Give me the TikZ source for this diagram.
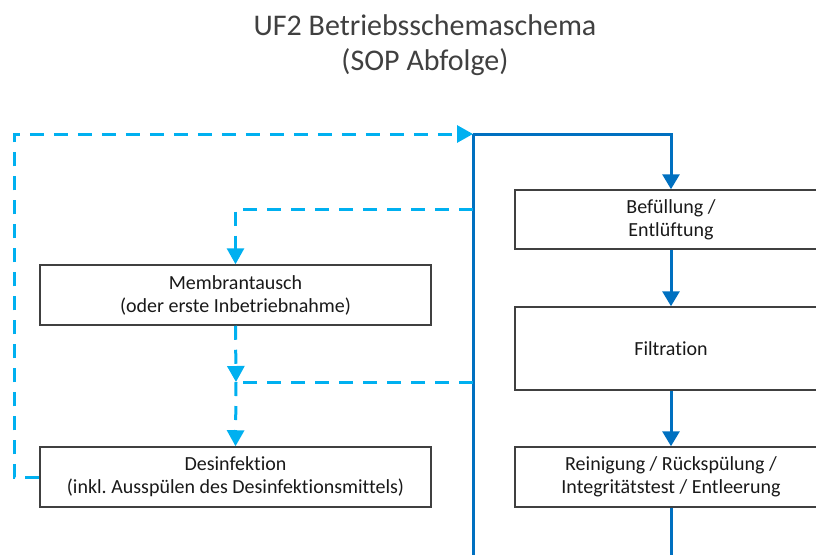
\documentclass[tikz,border=0pt]{standalone}
\usepackage{fontspec}
\setmainfont{Carlito}[Ligatures=NoCommon]
\usetikzlibrary{arrows.meta,positioning}

\definecolor{mainblue}{HTML}{0070C0}
\definecolor{lightblue}{HTML}{00B0F0}
\definecolor{boxgray}{HTML}{404040}
\definecolor{titlegray}{HTML}{404040}

\tikzset{
  box/.style={draw=boxgray,line width=1.5pt,align=center,text=black!90,
    font=\fontsize{20}{23}\selectfont,inner sep=0pt},
  mainline/.style={draw=mainblue,line width=3pt,
    -{Triangle[width=17pt,length=15pt]}},
  dashline/.style={draw=lightblue,line width=3pt,dash pattern=on 14pt off 10pt,
    -{Triangle[width=17pt,length=16pt]}},
}

\begin{document}
\begin{tikzpicture}[x=1pt,y=-1pt]
      \useasboundingbox (0,0) rectangle (816,554);

      \coordinate (t) at (425,45);
      \coordinate (m) at (235.5,295);
      \coordinate (d) at (235.5,477);
      \coordinate (b) at (671,219.5);
      \coordinate (f) at (671,348.5);
      \coordinate (r) at (671,477);

      \node[align=center,text=titlegray,font=\fontsize{30}{35}\selectfont] (title) at (t)
        {UF2 Betriebsschemaschema\\(SOP Abfolge)};

      % left column
      \node[box,minimum width=391pt,minimum height=60pt] (memn) at (m)
        {Membrantausch\\(oder erste Inbetriebnahme)};
      \node[box,minimum width=391pt,minimum height=60pt] (desn) at (d)
        {Desinfektion\\(inkl.\ Ausspülen des Desinfektionsmittels)};

      % right column
      \node[box,minimum width=312pt,minimum height=59pt] (befn) at (b)
        {Befüllung /\\Entlüftung};
      \node[box,minimum width=312pt,minimum height=83pt] (filn) at (f)
        {Filtration};
      \node[box,minimum width=312pt,minimum height=60pt] (rein) at (r)
        {Reinigung / Rückspülung /\\Integritätstest / Entleerung};

      \coordinate (top) at (473,134);
      \coordinate (bot) at (473,560);
      \coordinate (rb) at (671,560);
      \coordinate (lc) at (14,134);
      \coordinate (mb) at (473,209);
      \coordinate (jn) at (236,382);
      \coordinate (jr) at (473,382);

      % main flow
      \draw[mainline,-] (bot) -- (top);
      \draw[mainline] (top) -| (befn.north);
      \draw[mainline] (befn.south) -- (filn.north);
      \draw[mainline] (filn.south) -- (rein.north);
      \draw[mainline,-] (rein.south) -- (rb);

      % membrane change / disinfection loop
      \draw[dashline] (desn.west) -| (lc) -- (top);
      \draw[dashline] (mb) -| (memn.north);
      \draw[dashline] (memn.south) -- (jn);
      \draw[dashline,-] (jr) -- (jn);
      \draw[dashline] (jn) -- (desn.north);
\end{tikzpicture}
\end{document}
